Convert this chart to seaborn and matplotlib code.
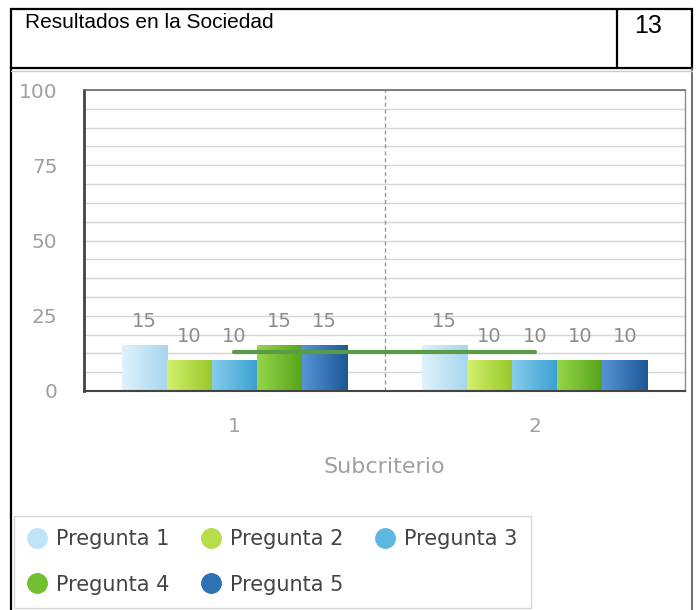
import numpy as np
import pandas as pd
import matplotlib
matplotlib.use("Agg")
import matplotlib.pyplot as plt
from matplotlib.lines import Line2D
from matplotlib.patches import Rectangle
from matplotlib.colors import LinearSegmentedColormap
import seaborn as sns

# ---- data -------------------------------------------------------------
subcriterios = ["1", "2"]
preguntas = ["Pregunta 1", "Pregunta 2", "Pregunta 3", "Pregunta 4", "Pregunta 5"]
valores_sub1 = [15, 10, 10, 15, 15]
valores_sub2 = [15, 10, 10, 10, 10]
promedio = [13, 13]
yticks = [0, 25, 50, 75, 100]

titulo = "Resultados en la Sociedad"
numero = "13"
eje_x = "Subcriterio"

# bar gradients (left -> right) and legend swatch colours
col_claro = ["#dff2fb", "#d2f06c", "#86cdee", "#96d648", "#5594d4"]
col_oscuro = ["#a6d6ee", "#98c82a", "#3b9fd0", "#56a41c", "#1d5796"]
col_medio = ["#bfe4f6", "#b5de48", "#5cb8e2", "#72bf30", "#2f72b4"]

df = pd.DataFrame({
    "Subcriterio": np.repeat(subcriterios, len(preguntas)),
    "Pregunta": preguntas * len(subcriterios),
    "Valor": valores_sub1 + valores_sub2,
})

sns.set_style("white")
plt.rcParams["font.family"] = ["DejaVu Sans"]

W, H = 698, 610
fig = plt.figure(figsize=(W / 100, H / 100), dpi=100)


def fx(px):
    return px / W


def fy(py):
    return 1 - py / H


ax = fig.add_axes([fx(84), fy(391), fx(685) - fx(84), fy(90) - fy(391)])
sns.barplot(data=df, x="Subcriterio", y="Valor", hue="Pregunta",
            palette=col_medio, width=0.75, saturation=1, errorbar=None,
            edgecolor="white", linewidth=0.6, legend=False, ax=ax)

# horizontal gradient fill for every bar
grad = np.linspace(0, 1, 64).reshape(1, -1)
for i, cont in enumerate(ax.containers):
    cmap = LinearSegmentedColormap.from_list(f"g{i}", [col_claro[i], col_oscuro[i]])
    for bar in cont:
        x0, y0 = bar.get_x(), bar.get_y()
        w, h = bar.get_width(), bar.get_height()
        ax.imshow(grad, extent=[x0, x0 + w, y0, y0 + h], cmap=cmap,
                  aspect="auto", zorder=bar.get_zorder() + 0.01,
                  interpolation="bilinear")
    ax.bar_label(cont, fmt="%g", padding=11, color="#8c8c8c", fontsize=14)

# average line across subcriteria
sns.lineplot(x=np.arange(len(subcriterios)), y=promedio, color="#5a9a48",
             linewidth=3, ax=ax, zorder=5)

ax.axvline(0.5, color="#9a9a9a", lw=1, ls=(0, (3, 2)), zorder=1)

ax.set_xlim(-0.5, len(subcriterios) - 0.5)
ax.set_ylim(0, 100)
ax.set_yticks(yticks)
ax.set_yticks(np.arange(0, 100.01, 6.25), minor=True)
ax.yaxis.grid(True, which="both", color="#d6d6d6", lw=1)
ax.set_axisbelow(True)

ax.set_xticks(range(len(subcriterios)))
ax.set_xticklabels(subcriterios)
ax.set_xticks(np.arange(-0.5, len(subcriterios), 1.0), minor=True)
ax.tick_params(axis="x", which="major", length=0, pad=19,
               labelsize=14.5, labelcolor="#a0a0a0")
ax.tick_params(axis="x", which="minor", length=7, direction="out",
               color="#666666", width=1)
ax.tick_params(axis="y", which="major", length=5, direction="out",
               color="#666666", labelsize=14.5, labelcolor="#a0a0a0", pad=14)
ax.tick_params(axis="y", which="minor", length=3, direction="out",
               color="#888888")
ax.set_xlabel(eje_x, fontsize=16, color="#a0a0a0", labelpad=15)
ax.set_ylabel("")

ax.spines["left"].set_color("#444444")
ax.spines["left"].set_linewidth(2)
ax.spines["bottom"].set_color("#444444")
ax.spines["bottom"].set_linewidth(1.5)
ax.spines["top"].set_color("#6a6a6a")
ax.spines["top"].set_linewidth(1.2)
ax.spines["right"].set_color("#8a8a8a")
ax.spines["right"].set_linewidth(1)

# legend, filled row by row (matplotlib fills columns first)
handles = [Line2D([], [], marker="o", ls="", markersize=14,
                  markerfacecolor=c, markeredgecolor=c) for c in col_medio]
orden = [0, 3, 1, 4, 2]
leg = fig.legend([handles[i] for i in orden], [preguntas[i] for i in orden],
                 loc="upper left", bbox_to_anchor=(fx(14), fy(516)), ncol=3,
                 fontsize=15, handletextpad=0.41, columnspacing=1.5,
                 labelspacing=1.24, borderpad=0.62, handlelength=1.0,
                 frameon=True, fancybox=False, edgecolor="#cccccc",
                 borderaxespad=0)
leg.get_frame().set_linewidth(1)
for t in leg.get_texts():
    t.set_color("#444444")

# header box and outer frame
fig.add_artist(Rectangle((fx(11), fy(68)), fx(692) - fx(11), fy(9) - fy(68),
                         transform=fig.transFigure, fill=False,
                         edgecolor="black", lw=1.6))
fig.add_artist(Line2D([fx(617), fx(617)], [fy(9), fy(68)],
                      transform=fig.transFigure, color="black", lw=1.6))
fig.add_artist(Line2D([fx(11), fx(11)], [fy(68), fy(612)],
                      transform=fig.transFigure, color="black", lw=1.6))
fig.add_artist(Line2D([fx(692), fx(692)], [fy(68), fy(612)],
                      transform=fig.transFigure, color="#555555", lw=1.2))
fig.add_artist(Line2D([fx(11), fx(692)], [fy(71), fy(71)],
                      transform=fig.transFigure, color="#cccccc", lw=1))

fig.text(fx(25), fy(13), titulo, fontsize=15, family="Liberation Sans",
         va="top", ha="left", color="black")
fig.text(fx(648), fy(14), numero, fontsize=18, family="Liberation Sans",
         va="top", ha="center", color="black")

fig.savefig("out.png", dpi=100)
